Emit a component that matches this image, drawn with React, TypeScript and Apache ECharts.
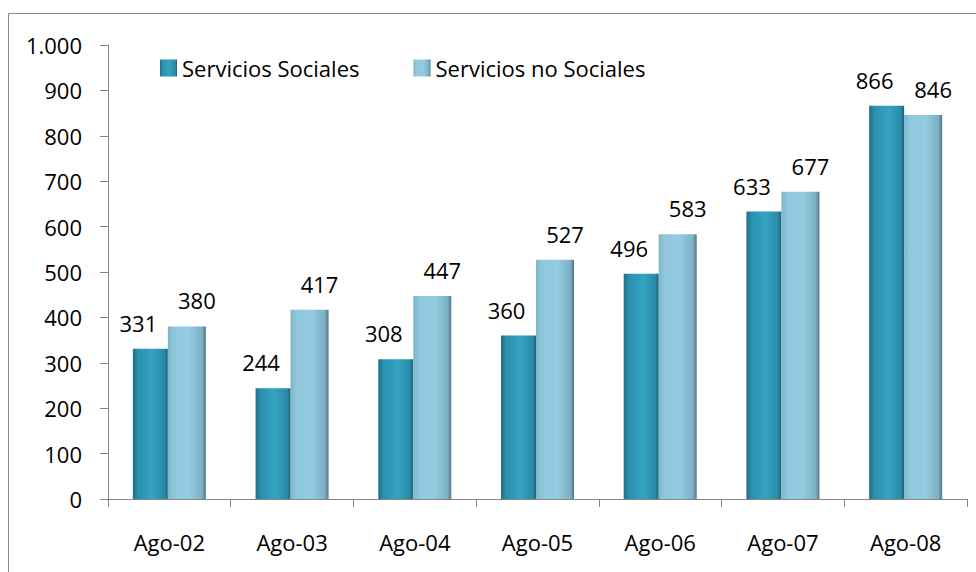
import React, { useEffect, useRef } from "react";
import * as echarts from "echarts";

const categories = ["Ago-02", "Ago-03", "Ago-04", "Ago-05", "Ago-06", "Ago-07", "Ago-08"];
const sociales = [331, 244, 308, 360, 496, 633, 866];
const noSociales = [380, 417, 447, 527, 583, 677, 846];
const seriesNames = ["Servicios Sociales", "Servicios no Sociales"];

const FONT = "'Open Sans', 'Noto Sans', sans-serif";

export default function App() {
  const ref = useRef<HTMLDivElement>(null);
  useEffect(() => {
    if (!ref.current) return;
    const chart = echarts.init(ref.current, undefined, { renderer: "svg" });
    const darkGrad = new echarts.graphic.LinearGradient(0, 0, 1, 0, [
      { offset: 0, color: "#1d6f86" },
      { offset: 0.15, color: "#2a90ad" },
      { offset: 0.55, color: "#34a3c2" },
      { offset: 0.9, color: "#2a8aa6" },
      { offset: 1, color: "#1e6075" },
    ]);
    const lightGrad = new echarts.graphic.LinearGradient(0, 0, 1, 0, [
      { offset: 0, color: "#7fb5c9" },
      { offset: 0.15, color: "#8fc7dc" },
      { offset: 0.55, color: "#94cde3" },
      { offset: 0.9, color: "#7db0c3" },
      { offset: 1, color: "#4c7888" },
    ]);
    const labelStyle = {
      show: true,
      position: "top" as const,
      distance: 15,
      fontSize: 22,
      color: "#000",
      fontFamily: FONT,
    };
    chart.setOption({
      animation: false,
      textStyle: { fontFamily: FONT },
      graphic: [
        {
          type: "rect",
          shape: { x: 8.5, y: 13.5, width: 1000, height: 600 },
          style: { fill: "none", stroke: "#8a8a8a", lineWidth: 1 },
          silent: true,
        },
      ],
      legend: {
        left: 155,
        top: 52,
        itemWidth: 17,
        itemHeight: 17,
        itemGap: 54,
        icon: "rect",
        textStyle: { fontSize: 22, color: "#000", fontFamily: FONT },
        data: seriesNames,
      },
      grid: { left: 108, right: 9, top: 45, bottom: 73 },
      xAxis: {
        type: "category",
        data: categories,
        axisLine: { lineStyle: { color: "#868686" } },
        axisTick: { show: true, length: 8, lineStyle: { color: "#868686" } },
        axisLabel: { fontSize: 22, color: "#000", margin: 32, fontFamily: FONT },
      },
      yAxis: {
        type: "value",
        min: 0,
        max: 1000,
        interval: 100,
        splitLine: { show: false },
        axisLine: { show: true, lineStyle: { color: "#868686" } },
        axisTick: { show: true, length: 8, lineStyle: { color: "#868686" } },
        axisLabel: {
          fontSize: 22,
          color: "#000",
          margin: 26,
          fontFamily: FONT,
          formatter: (v: number) => (v >= 1000 ? v.toLocaleString("de-DE") : String(v)),
        },
      },
      series: [
        {
          name: seriesNames[0],
          type: "bar",
          data: sociales,
          barWidth: 35,
          barGap: "0%",
          itemStyle: { color: darkGrad },
          label: { ...labelStyle, offset: [-12, 0] },
        },
        {
          name: seriesNames[1],
          type: "bar",
          data: noSociales,
          barWidth: 38,
          itemStyle: { color: lightGrad },
          label: { ...labelStyle, offset: [10, 0] },
        },
      ],
    });
    return () => chart.dispose();
  }, []);
  return (
    <div
      ref={ref}
      style={{ position: "fixed", left: 0, top: 0, width: 976, height: 572, background: "#fff" }}
    />
  );
}
